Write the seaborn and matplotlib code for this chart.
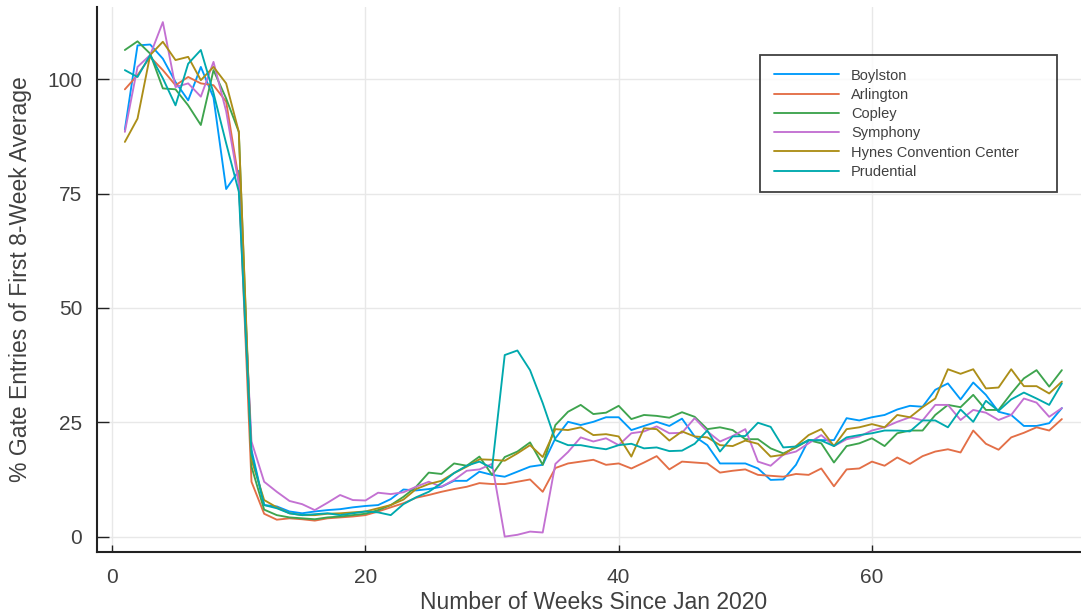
import numpy as np
import pandas as pd
import matplotlib
matplotlib.use("Agg")
import matplotlib.pyplot as plt
import seaborn as sns

weeks = list(range(1, 76))
stations = ["Boylston", "Arlington", "Copley", "Symphony", "Hynes Convention Center", "Prudential"]
colors = ["#009AFA", "#E36F47", "#3EA44E", "#C371D2", "#AC8E18", "#00A9AD"]

boylston = [89, 107.4, 107.6, 104.5, 99.4, 95.4, 102.7, 96, 76, 80,
            19, 6.9, 6.6, 5.5, 5.1, 5.5, 5.8, 6.0, 6.4, 6.7,
            6.9, 8.2, 10.3, 10.1, 10.4, 10.9, 12.2, 12.2, 14.2, 13.5,
            13.1, 14.2, 15.3, 15.7, 21.5, 25.1, 24.4, 25.1, 26.1, 26.1,
            23.3, 24.2, 25.1, 24.2, 25.8, 21.9, 20.0, 16.0, 16.0, 16.0,
            14.9, 12.4, 12.5, 15.7, 21.1, 21.1, 21.1, 25.9, 25.4, 26.1,
            26.6, 27.8, 28.6, 28.4, 32.1, 33.5, 30.0, 33.7, 31.0, 27.3,
            26.6, 24.2, 24.2, 24.8, 28.1]
arlington = [97.8, 100.9, 104.9, 102, 98.7, 100.5, 99.1, 98.7, 95.1, 78,
             12.0, 5.0, 3.7, 4.0, 3.8, 3.5, 4.0, 4.2, 4.4, 4.7,
             5.5, 6.4, 7.3, 8.5, 9.1, 9.8, 10.4, 10.9, 11.7, 11.5,
             11.5, 12.0, 12.5, 9.8, 15.0, 16.0, 16.4, 16.8, 15.7, 16.0,
             14.9, 16.2, 17.6, 14.7, 16.4, 16.2, 16.0, 14.0, 14.4, 14.7,
             13.5, 13.3, 13.1, 13.7, 13.5, 14.9, 11.0, 14.7, 14.9, 16.4,
             15.5, 17.3, 15.9, 17.6, 18.6, 19.1, 18.4, 23.2, 20.3, 19.0,
             21.7, 22.7, 23.9, 23.2, 25.7]
copley = [106.4, 108.3, 105.6, 98.0, 97.8, 94.3, 90, 102, 95.8, 88.5,
          15.3, 5.9, 4.7, 4.2, 4.0, 3.8, 4.2, 4.4, 4.7, 5.0,
          5.8, 6.9, 8.7, 10.9, 14.0, 13.7, 16.0, 15.5, 17.5, 13.5,
          17.4, 18.6, 20.6, 15.7, 24.4, 27.3, 28.8, 26.8, 27.1, 28.6,
          25.7, 26.6, 26.4, 26.0, 27.2, 26.2, 23.5, 23.9, 23.3, 21.3,
          21.3, 19.3, 18.2, 19.5, 21.1, 20.4, 16.2, 19.8, 20.4, 21.5,
          19.8, 22.6, 23.2, 23.2, 26.6, 28.8, 28.3, 31.0, 27.7, 27.7,
          31.3, 34.6, 36.4, 32.8, 36.4]
symphony = [88.5, 102.7, 105.3, 112.5, 98.3, 99.1, 96.2, 103.8, 93, 77,
            20.8, 12.0, 9.8, 7.8, 7.1, 5.8, 7.4, 9.1, 8.0, 7.9,
            9.6, 9.3, 9.7, 10.9, 12.0, 10.9, 12.4, 14.4, 14.7, 15.9,
            0.0, 0.4, 1.1, 0.9, 15.9, 18.5, 21.7, 20.8, 21.5, 20.0,
            22.6, 23.0, 24.1, 22.6, 22.7, 25.9, 23.0, 20.8, 22.0, 23.5,
            16.4, 15.5, 17.9, 18.6, 20.4, 22.2, 19.8, 21.3, 21.9, 23.2,
            23.9, 25.1, 26.1, 25.4, 28.8, 28.8, 25.5, 27.7, 27.1, 25.5,
            26.6, 30.2, 29.3, 26.2, 28.1]
hynes = [86.3, 91.4, 105.3, 108.2, 104.2, 104.9, 99.8, 102.7, 99.1, 88.5,
         16.8, 8.0, 6.4, 5.1, 4.7, 4.7, 5.0, 5.1, 5.3, 5.5,
         6.2, 6.9, 8.1, 10.4, 11.5, 12.2, 13.9, 15.3, 16.9, 16.8,
         16.6, 18.2, 20.0, 17.4, 23.5, 23.3, 23.9, 22.2, 22.4, 21.9,
         17.5, 23.7, 23.5, 21.0, 23.0, 21.9, 21.7, 20.0, 19.8, 21.0,
         20.3, 17.5, 17.9, 19.8, 22.2, 23.5, 19.8, 23.5, 23.9, 24.6,
         23.9, 26.6, 26.1, 28.3, 30.2, 36.6, 35.6, 36.6, 32.4, 32.6,
         36.6, 32.9, 32.9, 31.3, 33.9]
prudential = [102, 100.5, 105.3, 100.2, 94.3, 103.4, 106.4, 97, 86, 75.4,
              18.2, 6.9, 6.2, 5.1, 4.7, 4.9, 5.1, 4.7, 5.1, 5.5,
              5.3, 4.7, 7.1, 8.6, 9.8, 11.7, 13.9, 15.5, 16.4, 15.0,
              39.7, 40.7, 36.4, 29.2, 21.1, 20.0, 20.0, 19.5, 19.1, 20.0,
              20.3, 19.3, 19.5, 18.7, 18.8, 20.3, 23.2, 18.6, 21.9, 22.0,
              24.9, 24.0, 19.5, 19.7, 21.1, 21.0, 19.8, 21.7, 22.2, 22.6,
              23.2, 23.2, 23.0, 25.4, 25.4, 23.9, 27.8, 25.1, 29.7, 27.5,
              30.0, 31.5, 30.2, 28.8, 33.5]

series = [boylston, arlington, copley, symphony, hynes, prudential]
df = pd.concat([pd.DataFrame({"week": weeks, "value": vals, "station": name})
                for name, vals in zip(stations, series)], ignore_index=True)

sns.set_theme(style="white")
plt.rcParams["font.family"] = ["Liberation Sans", "DejaVu Sans"]
text_color = "#404040"

fig = plt.figure(figsize=(10.81, 6.15), dpi=100)
ax = fig.add_axes([0.0895, 0.1029, 0.9188, 0.8857])

sns.lineplot(data=df, x="week", y="value", hue="station", hue_order=stations,
             palette=colors, linewidth=1.35, estimator=None, ax=ax)

ax.set_xlim(-1.22, 77.22)
ax.set_ylim(-3.3, 115.8)
ax.set_xticks([0, 20, 40, 60])
ax.set_yticks([0, 25, 50, 75, 100])
ax.grid(True, color="#e8e8e8", linewidth=1.0)
ax.set_axisbelow(True)
for s in ["top", "right"]:
    ax.spines[s].set_visible(False)
for s in ["left", "bottom"]:
    ax.spines[s].set_color("#222222")
    ax.spines[s].set_linewidth(1.5)
ax.tick_params(axis="y", direction="in", length=8.3, width=1.0, color="#222222",
               labelsize=15, labelcolor=text_color, pad=10.5, left=True)
ax.tick_params(axis="x", direction="in", length=5, width=1.0, color="#222222",
               labelsize=15, labelcolor=text_color, pad=12.0, bottom=True)
ax.set_xlabel("Number of Weeks Since Jan 2020", fontsize=16.5, color=text_color, labelpad=2.5)
ax.set_ylabel("% Gate Entries of First 8-Week Average", fontsize=16.5, color=text_color, labelpad=11)

handles, labels = ax.get_legend_handles_labels()
for h in handles:
    h.set_linewidth(1.35)
ax_w = 0.9188 * 10.81 * 100
ax_h = 0.8857 * 6.15 * 100
x0 = (760 - 96.7) / ax_w
x1 = (1057 - 96.7) / ax_w
y1 = (551.7 - 55) / ax_h
y0 = (551.7 - 197) / ax_h
leg = ax.legend(handles, labels, loc="upper left", bbox_to_anchor=(x0, y0, x1 - x0, y1 - y0),
                mode="expand", borderaxespad=0, fontsize=10.5, handlelength=4.5,
                handletextpad=0.82, labelspacing=0.36, borderpad=0.93, frameon=True,
                fancybox=False)
leg.get_frame().set_edgecolor("#111111")
leg.get_frame().set_linewidth(1.3)
for t in leg.get_texts():
    t.set_color(text_color)

fig.savefig("out.png", dpi=100)
